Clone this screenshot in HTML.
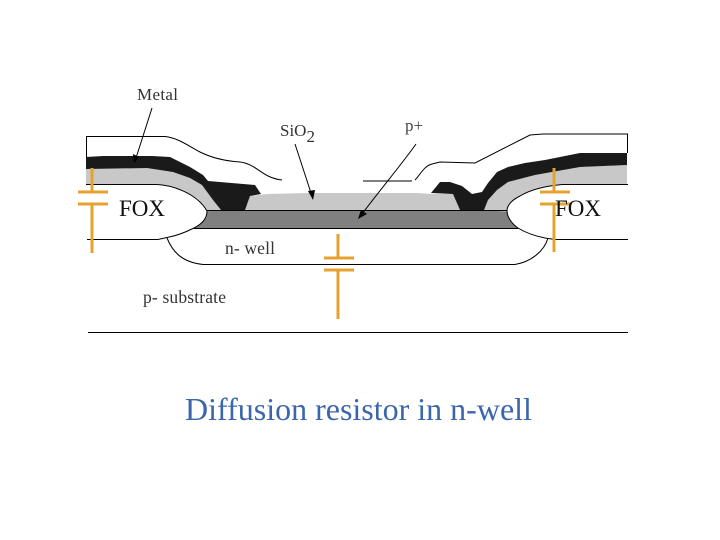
<!DOCTYPE html>
<html><head><meta charset="utf-8"><style>
html,body{margin:0;padding:0;background:#fff;width:720px;height:540px;overflow:hidden}
svg{display:block}
text{font-family:"Liberation Serif",serif}
</style></head><body>
<svg width="720" height="540" viewBox="0 0 720 540" xmlns="http://www.w3.org/2000/svg">
<rect width="720" height="540" fill="#fff"/>
<!-- dark gray p+ -->
<path d="M200 210H515L530 228H190Z" fill="#808080"/>
<!-- gray oxide left -->
<path d="M86 168H147L173 172L190 178L202 185L213 200L221 210L200 212L190 196L160 186L86 185Z" fill="#c8c8c8"/>
<!-- SiO2 centre -->
<path d="M245 210L250 196L267 194L310 193H417L432 194L453 194L460 210Z" fill="#c8c8c8"/>
<!-- gray oxide right -->
<path d="M484 210L488 200L497 190L508 182L535 175L580 167L627 165V186H560L520 200L510 212Z" fill="#c8c8c8"/>
<!-- metal left -->
<path d="M86 157L103 156H152L170 157L190 167L203 175L208 181L255 185L261 194L250 196L245 210H221L213 200L202 185L190 178L173 172L147 168L86 169Z" fill="#1a1a1a"/>
<!-- metal right -->
<path d="M431 193L440 182H450L462 186L472 194L482 192L488 183L497 172L508 167L525 163L545 160L580 153H627V165L580 167L535 175L508 182L497 190L488 200L484 210H460L453 194Z" fill="#1a1a1a"/>
<!-- FOX shapes -->
<path d="M86 184H157L177 188L197 198L207 211C207 219 202 224 194 228C184 233 176 236 167 237L158 239H87Z" fill="#fff"/>
<path d="M628 184H562C545 186 530 190 520 196C512 200 507 205 507 211C507 217 512 224 518 228C526 233 535 236 545 238L555 239H628Z" fill="#fff"/>
<g fill="none" stroke="#000" stroke-width="1">
<path d="M207 210.5H507M194 228.5H518"/>
<path d="M86.5 157V136.5H165C178 138 187 145 200 152C212 158 225 161 240 162C257 164 262 178 282 180"/>
<path d="M363 181H412"/>
<path d="M415 180C420 175 424 166 432 164L440 162L475 163L530 135L543 134H627.5V153"/>
<path d="M86 184.5H157C170 185 196 192 207 211C207 219 202 224 194 228C184 233 176 236 167 237.5L158 239.5H87"/>
<path d="M628 184.5H562C545 186 530 190 520 196C512 200 507 205 507 211C507 217 512 224 518 228C526 233 535 236 545 238L555 239.5H628"/>
<path d="M167 238C172 250 180 262 203 264.5H515C530 262 544 252 548 238"/>
<path d="M88 332.5H628"/>
<path d="M152 108L136 158"/>
<path d="M295 144L312 196"/>
<path d="M416 144C405 160 380 190 362 214"/>
</g>
<path d="M134 163L133 154L139 157Z" fill="#000"/>
<path d="M313 200L308 191L315 190Z" fill="#000"/>
<path d="M358 219L361 210L367 214Z" fill="#000"/>
<g fill="none" stroke="#e6a22e" stroke-width="3">
<path d="M92 168V192M78 192H108M78 204H108M92 204V253"/>
<path d="M554 168V192M540 192H570M540 204H570M554 204V252"/>
<path d="M338 234V258M324 258H354M324 270H354M338 270V319"/>
</g>
<text x="137" y="100" font-size="17" textLength="41" fill="#333">Metal</text>
<text x="280" y="136" font-size="17" fill="#333">SiO<tspan dy="6">2</tspan></text>
<text x="405" y="131" font-size="17" fill="#444">p+</text>
<text x="119" y="216" font-size="23" fill="#111">FOX</text>
<text x="555" y="216" font-size="23" fill="#111">FOX</text>
<text x="225" y="254" font-size="17.5" textLength="50" fill="#333">n- well</text>
<text x="143" y="303" font-size="17.5" textLength="83" fill="#333">p- substrate</text>
<text x="185" y="420" font-size="32" fill="#3b66ad">Diffusion resistor in n-well</text>
</svg>
</body></html>
